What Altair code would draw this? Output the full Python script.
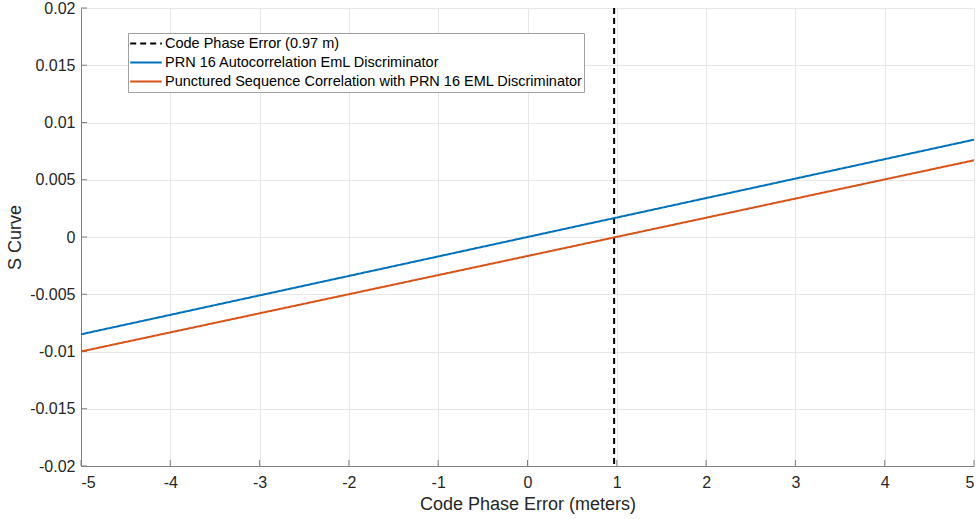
import altair as alt
import pandas as pd

# Code phase error axis (meters)
x_pts = [-5.0, 0.0, 5.0]
# EML discriminator output (S curve) for each correlation
prn16_auto = [-0.0085, 0.0, 0.0085]
punctured = [-0.0100, -0.00166, 0.0067]
# Estimated code phase error marker
code_phase_err = 0.97

series = [
    "Code Phase Error (0.97 m)",
    "PRN 16 Autocorrelation EmL Discriminator",
    "Punctured Sequence Correlation with PRN 16 EML Discriminator",
]
colors = ["#000000", "#0072BD", "#D95319"]
dashes = [[6, 4], [1, 0], [1, 0]]

x_ticks = [-5, -4, -3, -2, -1, 0, 1, 2, 3, 4, 5]
y_ticks = [-0.02, -0.015, -0.01, -0.005, 0, 0.005, 0.01, 0.015, 0.02]

W, H = 893, 458

lines = pd.DataFrame(
    {
        "x": x_pts * 2,
        "y": prn16_auto + punctured,
        "series": [series[1]] * len(x_pts) + [series[2]] * len(x_pts),
    }
)
marker = pd.DataFrame({"x": [code_phase_err], "series": [series[0]]})
xt = pd.DataFrame({"x": x_ticks})
yt = pd.DataFrame({"y": y_ticks})

FONT = "Liberation Sans"
TXT = "#262626"
AXC = "#808080"

color_enc = alt.Color(
    "series:N",
    scale=alt.Scale(domain=series, range=colors),
    legend=alt.Legend(
        title=None,
        orient="none",
        legendX=47,
        legendY=25,
        symbolType="stroke",
        symbolSize=1000,
        symbolStrokeWidth=2,
        clipHeight=19,
        rowPadding=0,
        labelFont=FONT,
        labelFontSize=14.5,
        labelColor="#000000",
        labelLimit=600,
        labelOffset=2,
        fillColor="#FFFFFF",
        strokeColor="#A0A0A0",
        padding=1,
        offset=0,
    ),
)
dash_enc = alt.StrokeDash(
    "series:N", scale=alt.Scale(domain=series, range=dashes), legend=None
)

x_scale = alt.Scale(domain=[-5, 5], nice=False, zero=False)
y_scale = alt.Scale(domain=[-0.02, 0.02], nice=False, zero=False)

label_expr = "replace(format(datum.value, '~g'), '\u2212', '-')"
x_axis = alt.Axis(values=x_ticks, title="Code Phase Error (meters)", labelExpr=label_expr)
y_axis = alt.Axis(values=y_ticks, title="S Curve", labelExpr=label_expr)

curves = (
    alt.Chart(lines)
    .mark_line(strokeWidth=2, clip=True)
    .encode(
        x=alt.X("x:Q", scale=x_scale, axis=x_axis),
        y=alt.Y("y:Q", scale=y_scale, axis=y_axis),
        color=color_enc,
        strokeDash=dash_enc,
        order=alt.Order("x:Q"),
    )
)

vline = (
    alt.Chart(marker)
    .mark_rule(strokeWidth=2)
    .encode(
        x=alt.X("x:Q", scale=x_scale),
        color=color_enc,
        strokeDash=dash_enc,
    )
)

# inward-pointing tick marks along the bottom and left axes
x_tick_marks = (
    alt.Chart(xt)
    .mark_rule(color=AXC, strokeWidth=1)
    .encode(x=alt.X("x:Q", scale=x_scale), y=alt.value(H), y2=alt.value(H - 6))
)
y_tick_marks = (
    alt.Chart(yt)
    .mark_rule(color=AXC, strokeWidth=1)
    .encode(y=alt.Y("y:Q", scale=y_scale), x=alt.value(0), x2=alt.value(6))
)

chart = (
    alt.layer(x_tick_marks, y_tick_marks, vline, curves)
    .properties(
        width=W,
        height=H,
        autosize=alt.AutoSizeParams(type="none"),
        padding={"left": 81, "top": 8, "right": 5, "bottom": 53},
        background="#FFFFFF",
    )
    .configure_view(stroke=None)
    .configure_axis(
        labelFont=FONT,
        labelFontSize=16,
        labelColor=TXT,
        titleFont=FONT,
        titleFontSize=18,
        titleFontWeight="normal",
        titleColor=TXT,
        domainColor=AXC,
        domainWidth=1,
        ticks=False,
        gridColor="#E6E6E6",
        gridWidth=1,
    )
    .configure_axisX(titlePadding=5, labelPadding=8)
    .configure_axisY(titlePadding=5, labelPadding=6)
)

chart.save("out.html", embed_options={"renderer": "svg", "actions": False})
